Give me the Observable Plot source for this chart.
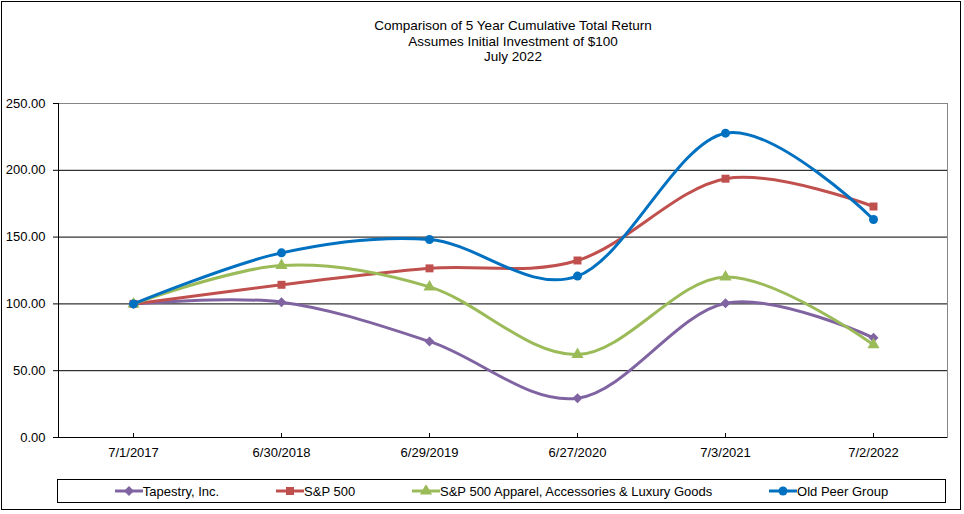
<!DOCTYPE html>
<html>
<head>
<meta charset="utf-8">
<script src="https://cdn.jsdelivr.net/npm/d3@7"></script>
<script src="https://cdn.jsdelivr.net/npm/@observablehq/plot@0.6"></script>
<style>
  body { margin: 0; background: #fff; font-family: "Liberation Sans", Arial, sans-serif; }
  #wrap { position: relative; width: 964px; height: 514px; background: #fff; overflow: hidden; }
  #border { position: absolute; left: 1px; top: 1px; width: 958px; height: 507px; border: 1px solid #000; }
  #title { position: absolute; left: 263px; top: 18px; width: 500px; text-align: center; font-size: 13.5px; line-height: 15.5px; color: #000; }
  #chart { position: absolute; left: 0; top: 0; }
  #legend { position: absolute; left: 57px; top: 479px; width: 887px; height: 22px; border: 1px solid #000;
            display: flex; justify-content: space-evenly; align-items: center; font-size: 13px; color: #000; }
  .item { display: flex; align-items: center; white-space: nowrap; }
  .item svg { display: block; }
</style>
</head>
<body>
<div id="wrap">
  <div id="border"></div>
  <div id="title">Comparison of 5 Year Cumulative Total Return<br>Assumes Initial Investment of $100<br>July 2022</div>
  <div id="chart"></div>
  <div id="legend"></div>
</div>
<script>
// ---- data ----
const dates = ["7/1/2017", "6/30/2018", "6/29/2019", "6/27/2020", "7/3/2021", "7/2/2022"];
const seriesNames = ["Tapestry, Inc.", "S&P 500", "S&P 500 Apparel, Accessories & Luxury Goods", "Old Peer Group"];
const tapestry = [100, 101.3, 71.9, 29.4, 100.5, 74.6];
const sp500 = [100, 114.3, 126.6, 132.5, 193.7, 172.9];
const apparel = [100, 128.7, 112.7, 62.1, 120.2, 69.4];
const oldPeer = [100, 138.2, 148.2, 120.8, 227.8, 163.2];
const yTicks = [0, 50, 100, 150, 200, 250];

// ---- styles ----
const colors = ["#8064A2", "#C0504D", "#9BBB59", "#0070C0"];
const symbols = ["diamond2", "square", "triangle", "circle"];

const values = [tapestry, sp500, apparel, oldPeer];
const rows = seriesNames.map((name, i) => dates.map((d, j) => ({series: name, date: d, value: values[i][j]})));

const seriesMarks = rows.flatMap((data, i) => [
  Plot.line(data, {x: "date", y: "value", stroke: colors[i], strokeWidth: 3, curve: "cardinal", tension: 0}),
  Plot.dot(data, {x: "date", y: "value", fill: colors[i], stroke: "none", symbol: symbols[i], r: 4.5})
]);

const chart = Plot.plot({
  width: 964,
  height: 470,
  marginLeft: 58,
  marginRight: 17,
  marginTop: 103,
  marginBottom: 33,
  style: {fontFamily: "'Liberation Sans', Arial, sans-serif", fontSize: "13px", color: "#000", background: "transparent", overflow: "visible"},
  x: {type: "point", domain: dates, padding: 0.5},
  y: {domain: [0, 250]},
  marks: [
    Plot.frame({stroke: "#868686"}),
    Plot.ruleY(yTicks.filter(t => t > 0 && t < 250), {stroke: "#000"}),
    Plot.ruleY([0], {stroke: "#000"}),
    Plot.frame({anchor: "left", stroke: "#000"}),
    Plot.ruleX(dates, {x: d => d, insetTop: 330, stroke: "#000"}),
    Plot.axisY({ticks: yTicks, tickFormat: d3.format(".2f"), tickSize: 5, tickPadding: 8, label: null}),
    Plot.axisX({tickSize: 0, tickPadding: 10, label: null}),
    ...seriesMarks
  ]
});
document.getElementById("chart").appendChild(chart);

// ---- legend ----
const legend = document.getElementById("legend");
seriesNames.forEach((name, i) => {
  const item = document.createElement("div");
  item.className = "item";
  const sw = d3.create("svg").attr("width", 28).attr("height", 12);
  sw.append("line").attr("x1", 0).attr("x2", 28).attr("y1", 6).attr("y2", 6)
    .attr("stroke", colors[i]).attr("stroke-width", 3);
  const symMap = {diamond2: d3.symbolDiamond2, square: d3.symbolSquare, triangle: d3.symbolTriangle, circle: d3.symbolCircle};
  sw.append("path").attr("transform", "translate(14,6)")
    .attr("d", d3.symbol(symMap[symbols[i]], Math.PI * 4.5 * 4.5)())
    .attr("fill", colors[i]);
  item.appendChild(sw.node());
  const t = document.createElement("span");
  t.textContent = name;
  item.appendChild(t);
  legend.appendChild(item);
});
</script>
</body>
</html>
